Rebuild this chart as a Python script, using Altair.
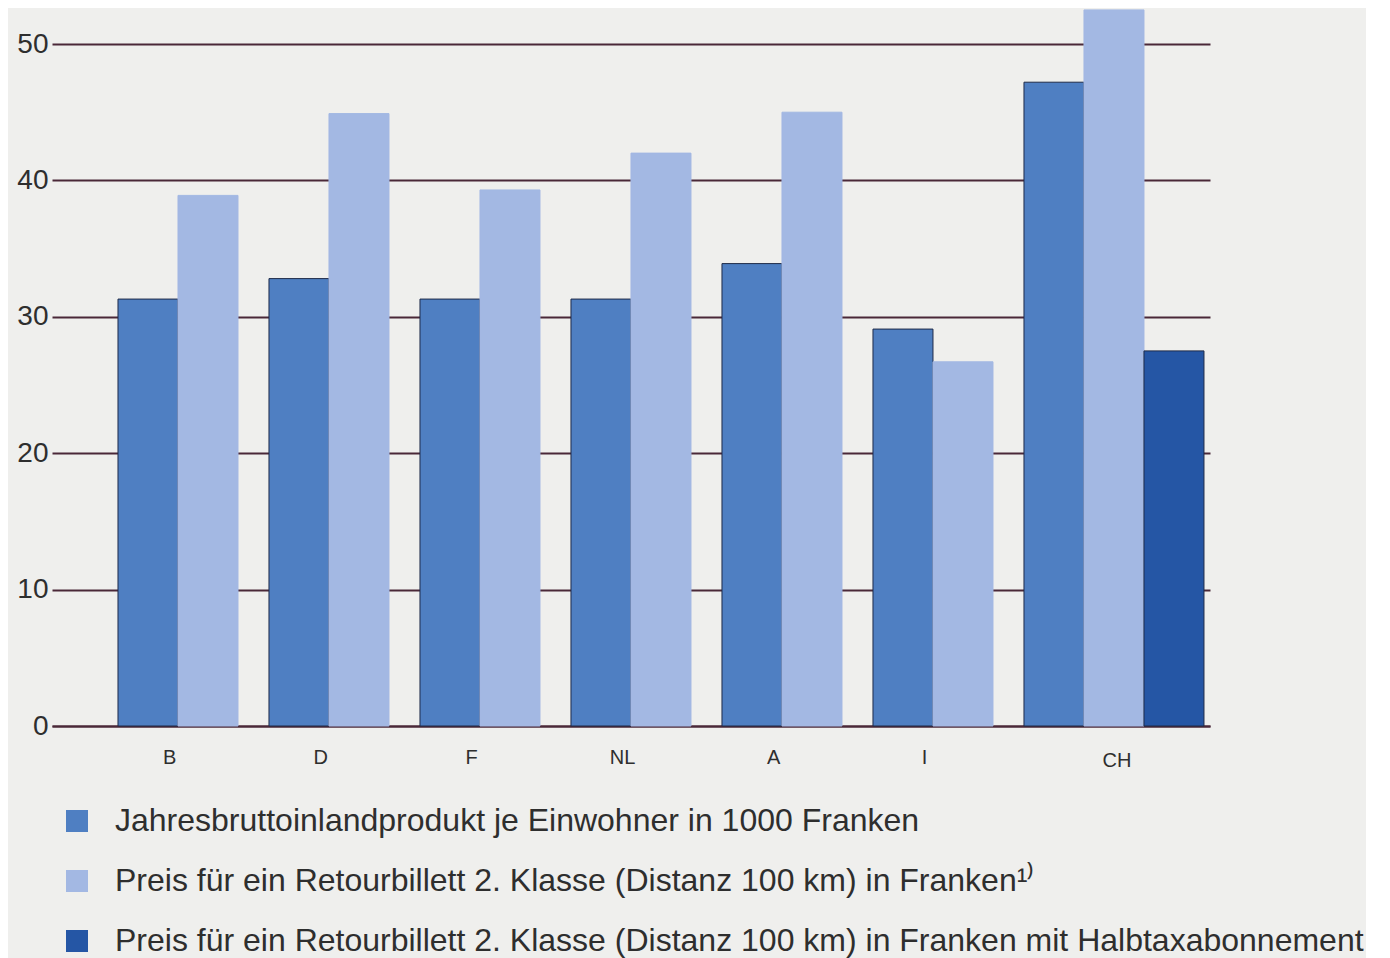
import altair as alt
import pandas as pd

# ---- data ----
categories = ["B", "D", "F", "NL", "A", "I", "CH"]
gdp = [31.3, 32.8, 31.3, 31.3, 33.9, 29.1, 47.2]
preis = [38.9, 44.9, 39.3, 42.0, 45.0, 26.7, 52.5]
halbtax_cats = ["CH"]
halbtax = [27.5]

series = [
    "Jahresbruttoinlandprodukt je Einwohner in 1000 Franken",
    "Preis für ein Retourbillett 2. Klasse (Distanz 100 km) in Franken¹⁾",
    "Preis für ein Retourbillett 2. Klasse (Distanz 100 km) in Franken mit Halbtaxabonnement",
]
colors = ["#4f7fc2", "#a3b8e3", "#2556a5"]
strokes = ["#1e2a48", "#a3b8e3", "#1e2a48"]
y_ticks = [0, 10, 20, 30, 40, 50]

rows = []
for c, v in zip(categories, gdp):
    rows.append({"cat": c, "series": series[0], "value": v})
for c, v in zip(categories, preis):
    rows.append({"cat": c, "series": series[1], "value": v})
for c, v in zip(halbtax_cats, halbtax):
    rows.append({"cat": c, "series": series[2], "value": v})
df = pd.DataFrame(rows)
lab_df = pd.DataFrame({"cat": categories})

FONT = "Liberation Sans"
GRID = "#4a2838"
W, H = 1158, 682

x_scale = alt.Scale(domain=categories, paddingInner=0.205, paddingOuter=0.437)
x_axis = alt.Axis(labels=False, ticks=False, title=None, domainColor=GRID,
                  domainWidth=2, grid=False)

bars = alt.Chart(df).mark_bar(strokeWidth=1).encode(
    x=alt.X("cat:N", scale=x_scale, axis=x_axis, sort=categories),
    xOffset=alt.XOffset("series:N", scale=alt.Scale(domain=series, range=[0, 180],
                                                    paddingInner=0, paddingOuter=0)),
    y=alt.Y("value:Q", scale=alt.Scale(domain=[0, 50], nice=False),
            axis=alt.Axis(values=y_ticks, title=None, domain=False, ticks=False,
                          grid=True, gridColor=GRID, gridWidth=2,
                          labelFontSize=28, labelColor="#2e2e2e", labelFont=FONT,
                          labelPadding=4, minExtent=40)),
    color=alt.Color("series:N", scale=alt.Scale(domain=series, range=colors),
                    legend=alt.Legend(title=None, orient="none", legendX=9, legendY=761,
                                      direction="vertical", symbolType="square",
                                      symbolSize=484, symbolStrokeWidth=0,
                                      labelFontSize=32, labelFont=FONT,
                                      labelColor="#2e2e2e", labelLimit=2000,
                                      labelOffset=22, rowPadding=28)),
    stroke=alt.Stroke("series:N", scale=alt.Scale(domain=series, range=strokes),
                      legend=None),
)

labels_main = alt.Chart(lab_df).transform_filter(
    alt.datum.cat != "CH"
).mark_text(fontSize=20, font=FONT, color="#2e2e2e", baseline="middle").encode(
    x=alt.X("cat:N", scale=x_scale, axis=x_axis, sort=categories, bandPosition=0.43),
    y=alt.value(H + 32),
    text="cat:N",
)
labels_ch = alt.Chart(lab_df).transform_filter(
    alt.datum.cat == "CH"
).mark_text(fontSize=20, font=FONT, color="#2e2e2e", baseline="middle").encode(
    x=alt.X("cat:N", scale=x_scale, axis=x_axis, sort=categories, bandPosition=0.775),
    y=alt.value(H + 35),
    text="cat:N",
)

chart = alt.layer(bars, labels_main, labels_ch).properties(
    width=W, height=H, background="#efefed",
    padding={"left": 4, "top": 1, "right": 2, "bottom": 5},
).configure_view(stroke=None)

chart.save("out.html", embed_options={"renderer": "svg", "actions": False})
